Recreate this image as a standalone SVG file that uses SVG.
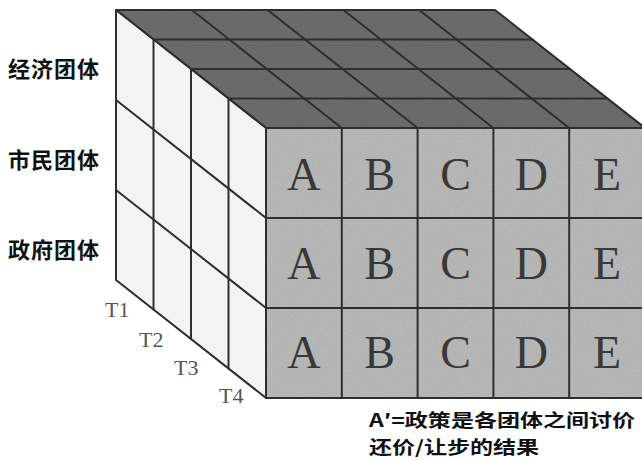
<svg xmlns="http://www.w3.org/2000/svg" width="642" height="460" viewBox="0 0 642 460">
  <style>
    .edge { stroke: #2e2e2e; stroke-width: 2; fill: none; stroke-linecap: round; stroke-linejoin: round; }
    .cell { font-family: "Liberation Serif", "Times New Roman", serif; font-size: 46px; fill: #383838; text-anchor: middle; }
    .tlab { font-family: "Liberation Serif", "Times New Roman", serif; font-size: 22px; fill: #555555; }
    .grp { font-family: "Noto Sans CJK SC", "Noto Sans", sans-serif; font-weight: bold; font-size: 22px; fill: #111111; letter-spacing: 1px; }
    .cap { font-family: "Noto Sans CJK SC", "Noto Sans", sans-serif; font-weight: bold; font-size: 18px; fill: #111111; }
  </style>
  <defs>
    <filter id="grain" x="0" y="0" width="100%" height="100%">
      <feTurbulence type="fractalNoise" baseFrequency="0.9" numOctaves="2" seed="3" result="n"/>
      <feColorMatrix in="n" type="matrix" values="0 0 0 0 0  0 0 0 0 0  0 0 0 0 0  0 0 0 0.18 0" result="a"/>
      <feComposite in="a" in2="SourceGraphic" operator="in" result="g"/>
      <feMerge><feMergeNode in="SourceGraphic"/><feMergeNode in="g"/></feMerge>
    </filter>
  </defs>
  <rect width="642" height="460" fill="#ffffff"/>

  <g id="top-face">
    <polygon points="116,10 495,10 645,128 266,128" fill="#6f6f6f" filter="url(#grain)"/>
    <g class="edge">
      <polygon points="116,10 495,10 645,128 266,128"/>
      <line x1="153.5" y1="39.5" x2="532.5" y2="39.5"/>
      <line x1="191" y1="69" x2="570" y2="69"/>
      <line x1="228.5" y1="98.5" x2="607.5" y2="98.5"/>
      <line x1="191.8" y1="10" x2="341.8" y2="128"/>
      <line x1="267.6" y1="10" x2="417.6" y2="128"/>
      <line x1="343.4" y1="10" x2="493.4" y2="128"/>
      <line x1="419.2" y1="10" x2="569.2" y2="128"/>
    </g>
  </g>

  <g id="left-face">
    <polygon points="116,10 266,128 266,398 116,280" fill="#f3f3f3"/>
    <g class="edge">
      <polygon points="116,10 266,128 266,398 116,280"/>
      <line x1="153.5" y1="39.5" x2="153.5" y2="309.5"/>
      <line x1="191" y1="69" x2="191" y2="339"/>
      <line x1="228.5" y1="98.5" x2="228.5" y2="368.5"/>
      <line x1="116" y1="100" x2="266" y2="218"/>
      <line x1="116" y1="190" x2="266" y2="308"/>
    </g>
  </g>

  <g id="front-face">
    <rect x="266" y="128" width="379" height="270" fill="#bdbdbd" filter="url(#grain)"/>
    <g class="edge">
      <rect x="266" y="128" width="379" height="270"/>
      <line x1="266" y1="218" x2="645" y2="218"/>
      <line x1="266" y1="308" x2="645" y2="308"/>
      <line x1="341.8" y1="128" x2="341.8" y2="398"/>
      <line x1="417.6" y1="128" x2="417.6" y2="398"/>
      <line x1="493.4" y1="128" x2="493.4" y2="398"/>
      <line x1="569.2" y1="128" x2="569.2" y2="398"/>
    </g>
    <g id="row-1">
      <text class="cell" x="303.9" y="190">A</text>
      <text class="cell" x="379.7" y="190">B</text>
      <text class="cell" x="455.5" y="190">C</text>
      <text class="cell" x="531.3" y="190">D</text>
      <text class="cell" x="607.1" y="190">E</text>
    </g>
    <g id="row-2">
      <text class="cell" x="303.9" y="279">A</text>
      <text class="cell" x="379.7" y="279">B</text>
      <text class="cell" x="455.5" y="279">C</text>
      <text class="cell" x="531.3" y="279">D</text>
      <text class="cell" x="607.1" y="279">E</text>
    </g>
    <g id="row-3">
      <text class="cell" x="303.9" y="368">A</text>
      <text class="cell" x="379.7" y="368">B</text>
      <text class="cell" x="455.5" y="368">C</text>
      <text class="cell" x="531.3" y="368">D</text>
      <text class="cell" x="607.1" y="368">E</text>
    </g>
  </g>

  <g id="group-labels">
    <text class="grp" x="8" y="77">经济团体</text>
    <text class="grp" x="8" y="168">市民团体</text>
    <text class="grp" x="8" y="258">政府团体</text>
  </g>

  <g id="time-labels">
    <text class="tlab" x="105" y="317">T1</text>
    <text class="tlab" x="139" y="347">T2</text>
    <text class="tlab" x="174" y="375">T3</text>
    <text class="tlab" x="219" y="403">T4</text>
  </g>

  <g id="caption" transform="scale(1.28 1)">
    <text class="cap" x="288.3" y="427.5">A′=政策是各团体之间讨价</text>
    <text class="cap" x="288.3" y="454.5">还价/让步的结果</text>
  </g>
</svg>
